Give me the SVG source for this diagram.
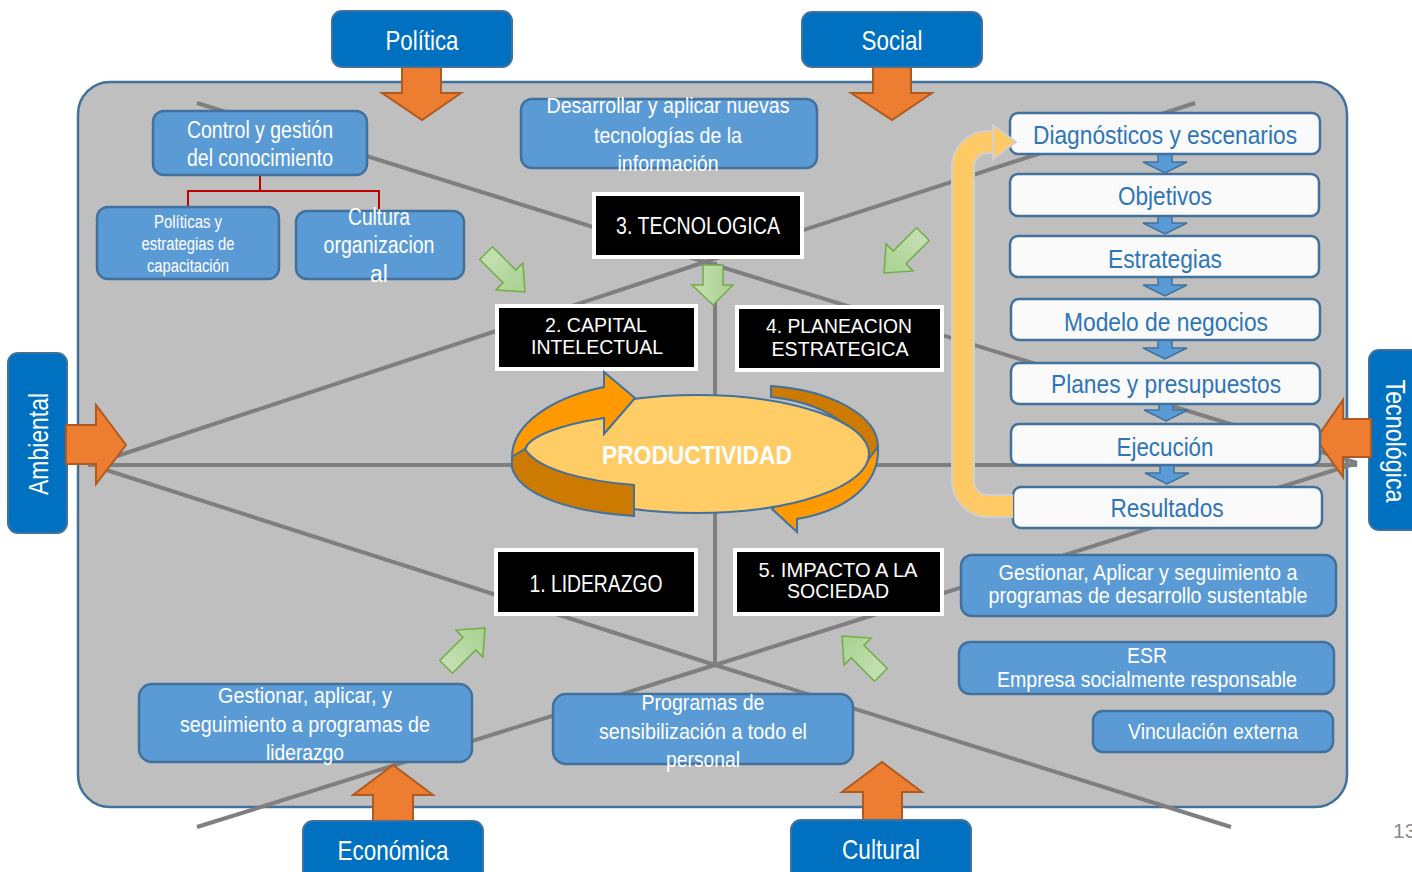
<svg xmlns="http://www.w3.org/2000/svg" width="1412" height="872" viewBox="0 0 1412 872">
<style>
text{font-family:"Liberation Sans",Arial,sans-serif;}
.dim{fill:#0070c0;stroke:#41719c;stroke-width:2;}
.dimt{fill:#fff;font-size:28px;text-anchor:middle;}
.oarr{fill:#ed7d31;stroke:#ae5a21;stroke-width:2;}
.lb{fill:#5b9bd5;stroke:#41719c;stroke-width:2.5;}
.lbt{fill:#fff;text-anchor:middle;}
.blk{fill:#000;stroke:#fff;stroke-width:4;}
.blkt{fill:#fff;font-size:23px;text-anchor:middle;}
.blk2{fill:#fff;font-size:21px;text-anchor:middle;}
.wb{fill:#fafafa;stroke:#41719c;stroke-width:2.5;}
.wbt{fill:#2e75b6;font-size:26px;text-anchor:middle;}
.ln{stroke:#7f7f7f;stroke-width:4;fill:none;}
.garr{fill:url(#gg);stroke:#70ad47;stroke-width:1.5;}
.barr{fill:#5b9bd5;stroke:#41719c;stroke-width:1.5;}
</style>
<defs>
<linearGradient id="gg" x1="0" y1="0" x2="1" y2="0">
<stop offset="0" stop-color="#c5e0b4"/>
<stop offset="1" stop-color="#a9d18e"/>
</linearGradient>
<polygon id="garrow" points="-55,-9 -22,-9 -22,-19 0,0 -22,19 -22,9 -55,9"/>
</defs>
<rect width="1412" height="872" fill="#fff"/>
<g id="panel">
<rect x="78" y="82" width="1269" height="725" rx="32" fill="#bfbfbf" stroke="#41719c" stroke-width="2.5"/>
</g>
<g id="connectors">
<line class="ln" x1="197" y1="103" x2="705" y2="262"/>
<line class="ln" x1="1195" y1="103" x2="705" y2="262"/>
<line class="ln" x1="105" y1="460" x2="705" y2="262"/>
<line class="ln" x1="1357" y1="463" x2="705" y2="262"/>
<line class="ln" x1="100" y1="468" x2="715" y2="665"/>
<line class="ln" x1="197" y1="827" x2="715" y2="665"/>
<line class="ln" x1="1231" y1="827" x2="715" y2="665"/>
<line class="ln" x1="1357" y1="463" x2="715" y2="665"/>
<line class="ln" x1="88" y1="465" x2="1357" y2="465"/>
<line class="ln" x1="715" y1="262" x2="715" y2="667"/>
<polyline points="260,175 260,191 188,191 188,207" fill="none" stroke="#c00000" stroke-width="2"/>
<polyline points="260,191 379,191 379,211" fill="none" stroke="#c00000" stroke-width="2"/>
</g>
<g id="politica">
<polygon class="oarr" points="402,66 441,66 441,93 461,93 422,120 382,93 402,93"/>
<rect class="dim" x="332" y="11" width="180" height="56" rx="10"/>
<text class="dimt" x="422" y="50" textLength="73" lengthAdjust="spacingAndGlyphs">Política</text>
</g>
<g id="social">
<polygon class="oarr" points="873,66 911,66 911,93 932,93 892,120 851,93 873,93"/>
<rect class="dim" x="802" y="12" width="180" height="55" rx="10"/>
<text class="dimt" x="892" y="50" textLength="61" lengthAdjust="spacingAndGlyphs">Social</text>
</g>
<g id="ambiental">
<rect class="dim" x="8" y="353" width="59" height="180" rx="10"/>
<polygon class="oarr" points="66,425 96,425 96,405 126,445 96,484 96,464 66,464"/>
<text class="dimt" transform="translate(48,444) rotate(-90)" textLength="102" lengthAdjust="spacingAndGlyphs">Ambiental</text>
</g>
<g id="tecnologica-dim">
<rect class="dim" x="1369" y="350" width="70" height="180" rx="10"/>
<polygon class="oarr" points="1371,419 1343,419 1343,400 1316,439 1343,477 1343,457 1371,457"/>
<text class="dimt" transform="translate(1386,441) rotate(90)" textLength="123" lengthAdjust="spacingAndGlyphs">Tecnológica</text>
</g>
<g id="economica">
<polygon class="oarr" points="373,826 413,826 413,795 433,795 393,765 353,795 373,795"/>
<rect class="dim" x="303" y="821" width="180" height="70" rx="10"/>
<text class="dimt" x="393" y="860" textLength="111" lengthAdjust="spacingAndGlyphs">Económica</text>
</g>
<g id="cultural">
<polygon class="oarr" points="863,823 902,823 902,792 922,792 882,762 842,792 863,792"/>
<rect class="dim" x="791" y="820" width="180" height="70" rx="10"/>
<text class="dimt" x="881" y="859" textLength="78" lengthAdjust="spacingAndGlyphs">Cultural</text>
</g>
<g id="control">
<rect class="lb" x="153" y="111" width="214" height="64" rx="11"/>
<text class="lbt" font-size="23" x="260" y="138" textLength="146" lengthAdjust="spacingAndGlyphs">Control y gestión</text>
<text class="lbt" font-size="23" x="260" y="166" textLength="146" lengthAdjust="spacingAndGlyphs">del conocimiento</text>
</g>
<g id="politicas">
<rect class="lb" x="97" y="207" width="182" height="72" rx="11"/>
<text class="lbt" font-size="18" x="188" y="228" textLength="68" lengthAdjust="spacingAndGlyphs">Políticas y</text>
<text class="lbt" font-size="18" x="188" y="250" textLength="93" lengthAdjust="spacingAndGlyphs">estrategias de</text>
<text class="lbt" font-size="18" x="188" y="272" textLength="82" lengthAdjust="spacingAndGlyphs">capacitación</text>
</g>
<g id="cultura">
<rect class="lb" x="296" y="211" width="168" height="68" rx="11"/>
<text class="lbt" font-size="23" x="379" y="225" textLength="62" lengthAdjust="spacingAndGlyphs">Cultura</text>
<text class="lbt" font-size="23" x="379" y="253" textLength="111" lengthAdjust="spacingAndGlyphs">organizacion</text>
<text class="lbt" font-size="23" x="379" y="282">al</text>
</g>
<g id="desarrollar">
<rect class="lb" x="521" y="99" width="296" height="69" rx="11"/>
<text class="lbt" font-size="22" x="668" y="113" textLength="243" lengthAdjust="spacingAndGlyphs">Desarrollar y aplicar nuevas</text>
<text class="lbt" font-size="22" x="668" y="143" textLength="148" lengthAdjust="spacingAndGlyphs">tecnologías de la</text>
<text class="lbt" font-size="22" x="668" y="171" textLength="101" lengthAdjust="spacingAndGlyphs">información</text>
</g>
<g id="green-arrows">
<use href="#garrow" class="garr" transform="translate(525,292) rotate(45)"/>
<polygon class="garr" points="703,265 723,265 723,285 733,285 713,305 692,285 703,285"/>
<use href="#garrow" class="garr" transform="translate(884,273) rotate(135)"/>
<use href="#garrow" class="garr" transform="translate(485,628) rotate(-45)"/>
<use href="#garrow" class="garr" transform="translate(842,636) rotate(-135)"/>
</g>
<g id="tecnologica">
<rect class="blk" x="594" y="194" width="208" height="63"/>
<text class="blkt" x="698" y="234" textLength="164" lengthAdjust="spacingAndGlyphs">3. TECNOLOGICA</text>
</g>
<g id="capital">
<rect class="blk" x="497" y="306" width="199" height="63"/>
<text class="blk2" x="596" y="332" textLength="102" lengthAdjust="spacingAndGlyphs">2. CAPITAL</text>
<text class="blk2" x="597" y="354" textLength="132" lengthAdjust="spacingAndGlyphs">INTELECTUAL</text>
</g>
<g id="planeacion">
<rect class="blk" x="737" y="307" width="205" height="63"/>
<text class="blk2" x="839" y="333" textLength="146" lengthAdjust="spacingAndGlyphs">4. PLANEACION</text>
<text class="blk2" x="840" y="356" textLength="137" lengthAdjust="spacingAndGlyphs">ESTRATEGICA</text>
</g>
<g id="liderazgo">
<rect class="blk" x="496" y="550" width="200" height="64"/>
<text class="blkt" x="596" y="592" textLength="133" lengthAdjust="spacingAndGlyphs">1. LIDERAZGO</text>
</g>
<g id="impacto">
<rect class="blk" x="735" y="550" width="207" height="64"/>
<text class="blk2" x="838" y="577" textLength="159" lengthAdjust="spacingAndGlyphs">5. IMPACTO A LA</text>
<text class="blk2" x="838" y="598" textLength="102" lengthAdjust="spacingAndGlyphs">SOCIEDAD</text>
</g>
<g id="productividad">
<path d="M771,386 C830,390 878,415 878,447 L870,462 C860,425 820,402 771,397 Z" fill="#cc7a00" stroke="#41719c" stroke-width="2"/>
<path d="M878,447 C880,482 850,510 797,519 L797,532 L772,509 L797,488 L797,496 C835,490 862,478 868,460 Z" fill="#ff9900" stroke="#41719c" stroke-width="2"/>
<ellipse cx="697" cy="454" rx="172" ry="59" fill="#ffcc66" stroke="#41719c" stroke-width="2"/>
<path d="M512,457 C512,425 550,398 604,387 L604,372 L635,398 L604,434 L604,418 C565,424 530,435 525,449 Z" fill="#ff9900" stroke="#41719c" stroke-width="2"/>
<path d="M525,449 L512,457 L512,468 C520,495 570,512 634,516 L634,485 C585,481 538,470 525,449 Z" fill="#cc7a00" stroke="#41719c" stroke-width="2"/>
<text x="697" y="464" font-size="25" font-weight="bold" fill="#fff" text-anchor="middle" textLength="190" lengthAdjust="spacingAndGlyphs">PRODUCTIVIDAD</text>
</g>
<g id="flow-arrows">
<polygon class="barr" points="1158,152 1172,152 1172,162 1187,162 1165,173 1143,162 1158,162"/>
<polygon class="barr" points="1158,214 1172,214 1172,223 1187,223 1165,234 1143,223 1158,223"/>
<polygon class="barr" points="1158,275 1172,275 1172,285 1187,285 1165,296 1143,285 1158,285"/>
<polygon class="barr" points="1158,338 1172,338 1172,348 1187,348 1165,359 1143,348 1158,348"/>
<polygon class="barr" points="1159,402 1173,402 1173,410 1188,410 1166,421 1144,410 1159,410"/>
<polygon class="barr" points="1160,463 1174,463 1174,473 1189,473 1167,484 1145,473 1160,473"/>
</g>
<g id="diagnosticos">
<rect class="wb" x="1010" y="113" width="310" height="41" rx="8"/>
<text class="wbt" x="1165" y="144" textLength="264" lengthAdjust="spacingAndGlyphs">Diagnósticos y escenarios</text>
</g>
<g id="objetivos">
<rect class="wb" x="1010" y="174" width="309" height="42" rx="8"/>
<text class="wbt" x="1165" y="205" textLength="94" lengthAdjust="spacingAndGlyphs">Objetivos</text>
</g>
<g id="estrategias">
<rect class="wb" x="1010" y="236" width="309" height="41" rx="8"/>
<text class="wbt" x="1165" y="268" textLength="114" lengthAdjust="spacingAndGlyphs">Estrategias</text>
</g>
<g id="modelo">
<rect class="wb" x="1011" y="299" width="309" height="41" rx="8"/>
<text class="wbt" x="1166" y="331" textLength="204" lengthAdjust="spacingAndGlyphs">Modelo de negocios</text>
</g>
<g id="planes">
<rect class="wb" x="1011" y="363" width="309" height="41" rx="8"/>
<text class="wbt" x="1166" y="393" textLength="230" lengthAdjust="spacingAndGlyphs">Planes y presupuestos</text>
</g>
<g id="ejecucion">
<rect class="wb" x="1011" y="424" width="309" height="41" rx="8"/>
<text class="wbt" x="1165" y="456" textLength="97" lengthAdjust="spacingAndGlyphs">Ejecución</text>
</g>
<g id="resultados">
<rect class="wb" x="1013" y="487" width="309" height="41" rx="8"/>
<text class="wbt" x="1167" y="517" textLength="113" lengthAdjust="spacingAndGlyphs">Resultados</text>
</g>
<g id="loop-arrow">
<path d="M1013,506 H988 A25,25 0 0 1 963,481 V167 A25,25 0 0 1 988,142 H996" fill="none" stroke="#d0d0d0" stroke-width="24"/>
<path d="M1013,506 H988 A25,25 0 0 1 963,481 V167 A25,25 0 0 1 988,142 H996" fill="none" stroke="#ffc966" stroke-width="20"/>
<polygon points="993,125 1016,142 993,159" fill="#ffc966" stroke="#d0d0d0" stroke-width="2"/>
</g>
<g id="sustentable">
<rect class="lb" x="961" y="555" width="375" height="61" rx="11"/>
<text class="lbt" font-size="22" x="1148" y="580" textLength="299" lengthAdjust="spacingAndGlyphs">Gestionar, Aplicar y seguimiento a</text>
<text class="lbt" font-size="22" x="1148" y="603" textLength="319" lengthAdjust="spacingAndGlyphs">programas de desarrollo sustentable</text>
</g>
<g id="esr">
<rect class="lb" x="959" y="642" width="375" height="52" rx="11"/>
<text class="lbt" font-size="22" x="1147" y="663" textLength="40" lengthAdjust="spacingAndGlyphs">ESR</text>
<text class="lbt" font-size="22" x="1147" y="687" textLength="300" lengthAdjust="spacingAndGlyphs">Empresa socialmente responsable</text>
</g>
<g id="vinculacion">
<rect class="lb" x="1093" y="711" width="240" height="41" rx="10"/>
<text class="lbt" font-size="22" x="1213" y="739" textLength="170" lengthAdjust="spacingAndGlyphs">Vinculación externa</text>
</g>
<g id="liderazgo-prog">
<rect class="lb" x="139" y="684" width="333" height="78" rx="13"/>
<text class="lbt" font-size="22" x="305" y="703" textLength="174" lengthAdjust="spacingAndGlyphs">Gestionar, aplicar, y</text>
<text class="lbt" font-size="22" x="305" y="732" textLength="250" lengthAdjust="spacingAndGlyphs">seguimiento a programas de</text>
<text class="lbt" font-size="22" x="305" y="760" textLength="78" lengthAdjust="spacingAndGlyphs">liderazgo</text>
</g>
<g id="sensibilizacion">
<rect class="lb" x="553" y="694" width="300" height="70" rx="13"/>
<text class="lbt" font-size="22" x="703" y="710" textLength="123" lengthAdjust="spacingAndGlyphs">Programas de</text>
<text class="lbt" font-size="22" x="703" y="739" textLength="208" lengthAdjust="spacingAndGlyphs">sensibilización a todo el</text>
<text class="lbt" font-size="22" x="703" y="767" textLength="74" lengthAdjust="spacingAndGlyphs">personal</text>
</g>
<text x="1393" y="838" font-size="21" fill="#8c8c8c">13</text>
</svg>
